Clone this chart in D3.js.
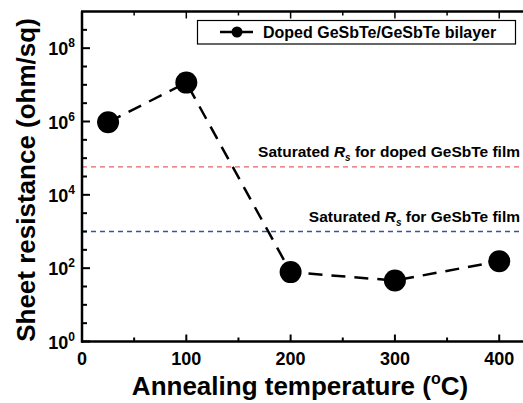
<!DOCTYPE html>
<meta charset="utf-8">
<style>
    body { margin: 0; background: #fff; }
    text { font-family: Arial, "Liberation Sans", sans-serif; font-weight: bold; }
</style>
<body>
<script src="https://d3js.org/d3.v7.min.js"></script>
<script>
    var width = 523,
        height = 403;

    // data
    const temps = [25, 100, 200, 300, 400];
    const sheetRes = [9.5e5, 1.15e7, 78, 46, 155];
    const seriesName = "Doped GeSbTe/GeSbTe bilayer";
    const xTicks = [0, 100, 200, 300, 400];
    const yMajor = [0, 2, 4, 6, 8];          // exponents
    const refLines = [
        { value: 5.8e4, color: "#e66464", pre: "Saturated ", post: " for doped GeSbTe film" },
        { value: 1e3, color: "#3a4fa6", pre: "Saturated ", post: " for GeSbTe film" }
    ];

    var x = d3.scaleLinear().domain([0, 425]).range([82, 525.3]);
    var y = d3.scaleLog().domain([1, 1e9]).range([341.5, 11.5]);

    var svg = d3.select("body").append("svg")
        .attr("width", width)
        .attr("height", height);

    // reference lines
    refLines.forEach(function (r) {
        svg.append("line")
            .attr("x1", x(0)).attr("x2", width)
            .attr("y1", y(r.value)).attr("y2", y(r.value))
            .attr("stroke", r.color)
            .attr("stroke-width", 1.3)
            .attr("stroke-dasharray", "5,4");
        var t = svg.append("text")
            .attr("x", 520)
            .attr("y", y(r.value) - 10)
            .attr("text-anchor", "end")
            .attr("font-size", 15.5);
        t.append("tspan").text(r.pre);
        t.append("tspan").attr("font-style", "italic").text("R");
        t.append("tspan").attr("font-style", "italic").attr("font-size", 10).attr("dy", 4).text("s");
        t.append("tspan").attr("dy", -4).text(r.post);
    });

    // x ticks: bottom and top, every 50, inward
    var xAll = d3.range(0, 451, 50);
    xAll.forEach(function (v) {
        var len = v % 100 === 0 ? 7 : 4;
        svg.append("line").attr("x1", x(v)).attr("x2", x(v))
            .attr("y1", y(1)).attr("y2", y(1) - len)
            .attr("stroke", "#000").attr("stroke-width", 2);
        svg.append("line").attr("x1", x(v)).attr("x2", x(v))
            .attr("y1", y(1e9)).attr("y2", y(1e9) + len)
            .attr("stroke", "#000").attr("stroke-width", 1.5);
    });

    svg.selectAll(".xlab")
        .data(xTicks)
        .enter().append("text")
        .attr("class", "xlab")
        .attr("x", d => x(d))
        .attr("y", 365)
        .attr("text-anchor", "middle")
        .attr("font-size", 18)
        .text(d => d);

    // y ticks: major every 2 decades, minor every half decade
    d3.range(0, 18).forEach(function (k) {
        var e = k / 2;
        var major = k % 4 === 0;
        svg.append("line")
            .attr("x1", x(0)).attr("x2", x(0) + (major ? 8 : 5))
            .attr("y1", y(Math.pow(10, e))).attr("y2", y(Math.pow(10, e)))
            .attr("stroke", "#000").attr("stroke-width", 2);
    });

    yMajor.forEach(function (e) {
        var t = svg.append("text")
            .attr("x", 75)
            .attr("y", y(Math.pow(10, e)) + 7)
            .attr("text-anchor", "end")
            .attr("font-size", 18);
        t.append("tspan").text("10");
        t.append("tspan").attr("font-size", 12).attr("dy", -8).text(e);
    });

    // axis frame (left, bottom, top)
    svg.append("line").attr("x1", x(0)).attr("x2", x(0))
        .attr("y1", y(1e9)).attr("y2", y(1) + 1)
        .attr("stroke", "#000").attr("stroke-width", 2.5);
    svg.append("line").attr("x1", x(0) - 1).attr("x2", width)
        .attr("y1", y(1)).attr("y2", y(1))
        .attr("stroke", "#000").attr("stroke-width", 2.5);
    svg.append("line").attr("x1", x(0) - 1).attr("x2", width)
        .attr("y1", y(1e9)).attr("y2", y(1e9))
        .attr("stroke", "#000").attr("stroke-width", 2.5);

    // data
    var line = d3.line()
        .x((d, i) => x(temps[i]))
        .y(d => y(d));

    svg.append("path")
        .datum(sheetRes)
        .attr("d", line)
        .attr("fill", "none")
        .attr("stroke", "#000")
        .attr("stroke-width", 2.5)
        .attr("stroke-dasharray", "14,9");

    svg.selectAll(".dot")
        .data(sheetRes)
        .enter().append("circle")
        .attr("class", "dot")
        .attr("cx", (d, i) => x(temps[i]))
        .attr("cy", d => y(d))
        .attr("r", 11)
        .attr("fill", "#000");

    // legend
    var lg = svg.append("g");
    lg.append("rect")
        .attr("x", 197.5).attr("y", 20.5)
        .attr("width", 318).attr("height", 23.5)
        .attr("fill", "#fff").attr("stroke", "#000").attr("stroke-width", 1.2);
    lg.append("line")
        .attr("x1", 220).attr("x2", 253).attr("y1", 32).attr("y2", 32)
        .attr("stroke", "#000").attr("stroke-width", 2.5);
    lg.append("circle").attr("cx", 237).attr("cy", 32).attr("r", 5.5).attr("fill", "#000");
    lg.append("text")
        .attr("x", 263).attr("y", 38)
        .attr("font-size", 16)
        .text(seriesName);

    // axis titles
    var xt = svg.append("text")
        .attr("x", 300).attr("y", 395)
        .attr("text-anchor", "middle")
        .attr("font-size", 26);
    xt.append("tspan").text("Annealing temperature (");
    xt.append("tspan").attr("font-size", 16).attr("dy", -11).text("o");
    xt.append("tspan").attr("dy", 11).text("C)");

    svg.append("text")
        .attr("transform", "translate(35,180) rotate(-90)")
        .attr("text-anchor", "middle")
        .attr("font-size", 26)
        .text("Sheet resistance (ohm/sq)");
</script>
</body>
</html>
